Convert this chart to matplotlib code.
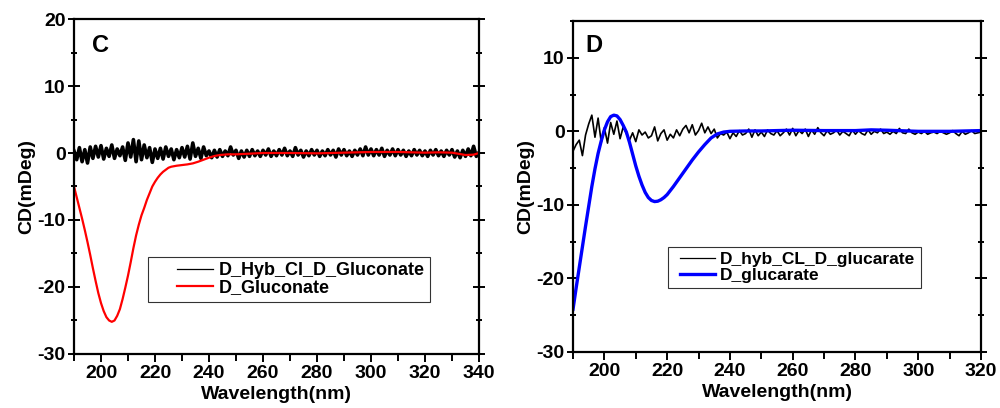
import matplotlib
matplotlib.use("Agg")
import matplotlib.pyplot as plt
import numpy as np
from matplotlib.ticker import MultipleLocator
from matplotlib.legend_handler import HandlerLine2D

plt.rcParams['font.family'] = ['Liberation Sans', 'DejaVu Sans']
plt.rcParams['font.weight'] = 'bold'
plt.rcParams['axes.unicode_minus'] = False

# ---- panel C data ----
wl_c = np.arange(190, 341, 1)
hyb_c = [0.3, -1.0, 0.8, -1.3, 0.5, -1.5, 0.9, -0.8, 1.0, -0.6,
         1.1, -0.9, 0.7, -0.5, 1.2, -0.8, 0.6, -0.4, 0.9, -1.1,
         1.5, -0.6, 2.0, -1.3, 1.8, -1.0, 1.2, -0.7, 0.8, -1.4,
         0.6, -0.8, 0.7, -0.9, 0.9, -0.5, 0.6, -1.0, 0.5, -0.7,
         0.8, -0.6, 1.0, -0.9, 1.5, -0.5, 0.7, -0.8, 0.9, -0.4,
         0.3, -0.7, 0.4, -0.6, 0.5, -0.5, 0.3, -0.4, 0.9, -0.3,
         0.4, -0.8, 0.3, -0.6, 0.4, -0.5, 0.5, -0.4, 0.3, -0.5,
         0.4, -0.3, 0.6, -0.5, 0.3, -0.4, 0.5, -0.3, 0.7, -0.4,
         0.3, -0.5, 0.8, -0.3, 0.4, -0.6, 0.3, -0.4, 0.5, -0.3,
         0.4, -0.5, 0.3, -0.4, 0.5, -0.3, 0.4, -0.6, 0.6, -0.3,
         0.5, -0.4, 0.3, -0.5, 0.4, -0.3, 0.6, -0.4, 0.9, -0.3,
         0.6, -0.4, 0.5, -0.3, 0.7, -0.5, 0.4, -0.3, 0.6, -0.4,
         0.5, -0.3, 0.4, -0.5, 0.3, -0.4, 0.5, -0.3, 0.4, -0.4,
         0.3, -0.5, 0.4, -0.3, 0.5, -0.4, 0.3, -0.5, 0.4, -0.3,
         0.5, -0.6, 0.3, -0.7, 0.4, -0.5, 0.6, -0.4, 1.0, -0.5,
         0.1]

gluconate_wl = list(range(190, 227)) + [228, 230, 232, 234, 236, 238, 240, 242,
                                        244, 247, 250, 255, 260, 270, 280, 290,
                                        300, 310, 320, 325, 330, 335, 338, 340]
gluconate = [-5.0, -6.6, -8.2, -9.8, -11.5, -13.3, -15.2, -17.2, -19.1, -20.9,
             -22.4, -23.6, -24.5, -25.0, -25.2, -25.0, -24.3, -23.3, -21.8, -20.1,
             -18.3, -16.3, -14.2, -12.3, -10.7, -9.3, -8.2, -7.0, -6.0, -5.0,
             -4.3, -3.7, -3.2, -2.8, -2.5, -2.2, -2.05,
             -1.9, -1.8, -1.7, -1.55, -1.3, -1.0, -0.7, -0.45, -0.3, -0.2, -0.2,
             -0.1, 0.0, 0.0, -0.05, 0.05, 0.15, 0.15, 0.05, 0.1, 0.05, -0.3,
             -0.25, 0.0]

# ---- panel D data ----
wl_d = np.arange(190, 321, 1)
hyb_d = [-2.7, -1.8, -1.2, -3.3, -0.5, 1.0, 2.2, -0.8, 1.8, -1.5,
         0.5, -1.6, 1.2, -0.4, 1.4, -1.0, 0.6, -0.3, -1.2, -0.2,
         -1.4, 0.2, -0.5, -0.1, -0.9, -0.6, 0.6, -1.3, -0.3, 0.2,
         -1.2, -0.4, -0.9, 0.2, -0.6, 0.3, 0.8, -0.2, 0.9, -0.5,
         0.1, 1.1, -0.2, 0.6, -0.3, 0.3, -0.9, -0.3, -0.5, -0.1,
         -1.0, -0.2, -0.7, 0.1, -0.5, -0.3, 0.3, -0.8, 0.2, -0.6,
         -0.1, -0.7, 0.2, -0.3, -0.5, 0.1, -0.6, -0.2, 0.3, -0.5,
         0.4, -0.6, 0.1, -0.3, 0.3, -0.7, 0.2, -0.4, 0.5, -0.2,
         -0.6, 0.1, -0.4, -0.2, 0.2, -0.5, 0.0, -0.3, -0.6, 0.2,
         -0.4, 0.1, -0.3, -0.5, 0.2, -0.4, 0.0, -0.2, 0.3, -0.3,
         -0.1, -0.4, 0.0, -0.3, 0.4, -0.2, -0.3, 0.3, -0.2, -0.4,
         -0.1, -0.3, 0.0, -0.4, -0.2, -0.1, -0.3, 0.0, -0.2, -0.4,
         -0.2, 0.1, -0.3, -0.6, 0.0, -0.4, -0.2, 0.1, -0.3, -0.2,
         -0.1]

glucarate_wl = list(range(190, 221)) + [222, 224, 226, 228, 230, 232, 234, 236,
                                        238, 240, 245, 250, 260, 270, 280, 285,
                                        290, 300, 310, 320]
glucarate = [-24.2, -21.3, -18.5, -15.7, -12.9, -10.2, -7.5, -5.1, -3.0, -1.3,
             0.2, 1.3, 2.0, 2.2, 2.1, 1.6, 0.8, -0.1, -1.5, -3.1,
             -4.7, -6.1, -7.3, -8.3, -9.0, -9.4, -9.55, -9.5, -9.3, -9.0,
             -8.6, -7.5, -6.3, -5.1, -3.9, -2.8, -1.8, -0.9, -0.35, -0.1,
             0.0, 0.05, 0.05, 0.15, 0.1, 0.1, 0.2, 0.15, 0.0, 0.0, 0.1]

fig = plt.figure(figsize=(10, 4.08), dpi=100)
ax1 = fig.add_axes([0.074, 0.1324, 0.405, 0.821])
ax2 = fig.add_axes([0.573, 0.1373, 0.408, 0.8112])


def style(ax):
    for s in ax.spines.values():
        s.set_linewidth(1.6)
    ax.tick_params(which='both', width=1.4, labelsize=14, pad=2)
    ax.tick_params(axis='x', which='both', direction='out', top=False)
    ax.tick_params(axis='y', which='both', direction='inout', right=True)
    ax.tick_params(which='major', length=6)
    ax.tick_params(axis='y', which='major', length=8)
    ax.tick_params(which='minor', length=5)
    ax.xaxis.set_major_locator(MultipleLocator(20))
    ax.xaxis.set_minor_locator(MultipleLocator(10))
    ax.yaxis.set_major_locator(MultipleLocator(10))
    ax.yaxis.set_minor_locator(MultipleLocator(5))
    for lab in ax.get_xticklabels() + ax.get_yticklabels():
        lab.set_fontweight('bold')
    ax.set_xlabel('Wavelength(nm)', fontsize=14, fontweight='bold', labelpad=3)
    ax.set_ylabel('CD(mDeg)', fontsize=14, fontweight='bold', labelpad=2)


def add_legend(ax, anchor, size, xpad):
    hm = {line: HandlerLine2D(xpad=xpad) for line in ax.get_lines()}
    leg = ax.legend(loc='upper left', bbox_to_anchor=anchor, fontsize=size,
                    frameon=True, fancybox=False, edgecolor='black',
                    borderpad=0.3, handlelength=2.0 + xpad, handletextpad=0.3,
                    labelspacing=0.0, borderaxespad=0, handler_map=hm)
    leg.get_frame().set_linewidth(0.8)
    leg.get_lines()[0].set_linewidth(0.9)
    return leg


ax1.plot(wl_c, hyb_c, color='black', lw=2.6, label='D_Hyb_Cl_D_Gluconate')
ax1.plot(gluconate_wl, gluconate, color='#ff0000', lw=1.6, label='D_Gluconate')
ax1.set_xlim(190, 340)
ax1.set_ylim(-30, 20)
style(ax1)
ax1.text(0.045, 0.92, 'C', transform=ax1.transAxes, fontsize=17,
         fontweight='bold', va='center', ha='left')
add_legend(ax1, (0.183, 0.29), 13, 1.3)

ax2.plot(wl_d, hyb_d, color='black', lw=1.2, label='D_hyb_CL_D_glucarate')
ax2.plot(glucarate_wl, glucarate, color='#0000ff', lw=2.4, label='D_glucarate')
ax2.set_xlim(190, 320)
ax2.set_ylim(-30, 15)
style(ax2)
ax2.text(0.03, 0.925, 'D', transform=ax2.transAxes, fontsize=17,
         fontweight='bold', va='center', ha='left')
add_legend(ax2, (0.233, 0.317), 12.5, 0.4)

fig.savefig('out.png', dpi=100)
